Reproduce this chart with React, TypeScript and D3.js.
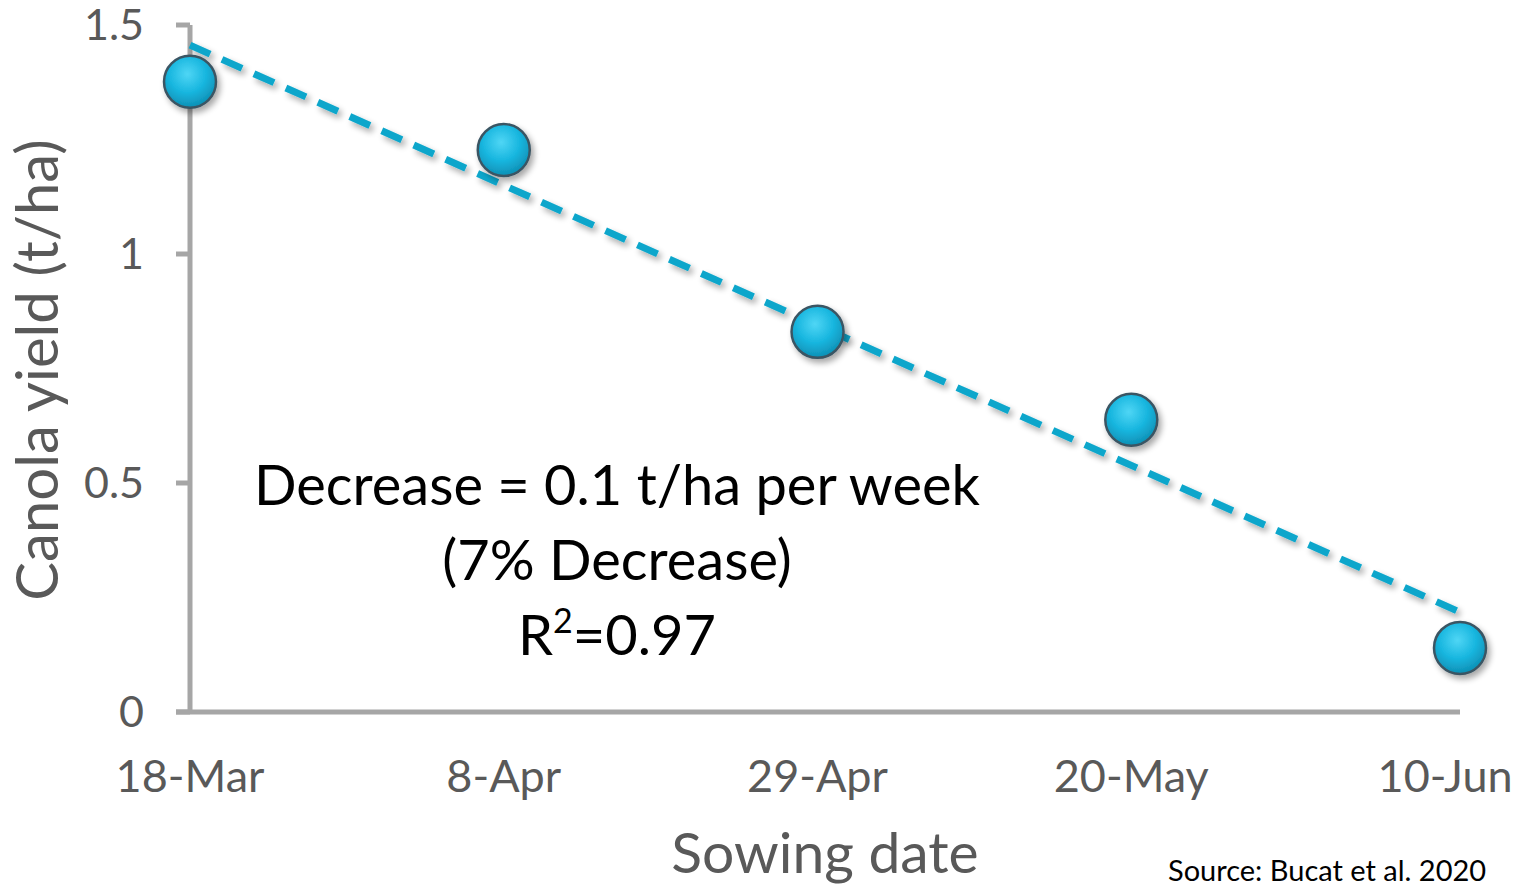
import React from "react";
import * as d3 from "d3";

const sowingDates = ["2019-03-18", "2019-04-08", "2019-04-29", "2019-05-20", "2019-06-11"];
const yields = [1.376, 1.227, 0.83, 0.638, 0.14];
const xTickDates = ["2019-03-18", "2019-04-08", "2019-04-29", "2019-05-20", "2019-06-10"];
const xTickLabels = ["18-Mar", "8-Apr", "29-Apr", "20-May", "10-Jun"];
const yTicks = [0, 0.5, 1, 1.5];
const yTickLabels = ["0", "0.5", "1", "1.5"];
const trendDates = ["2019-03-18", "2019-06-11"];
const trendValues = [1.456, 0.218];
const annotationLines = ["Decrease = 0.1 t/ha per week", "(7% Decrease)"];

const W = 1517;
const H = 886;
const FONT = "Lato, 'Open Sans', sans-serif";

export default function App() {
  const parse = d3.timeParse("%Y-%m-%d");
  const x = d3
    .scaleTime()
    .domain([parse("2019-03-18")!, parse("2019-06-11")!])
    .range([190, 1460]);
  const y = d3.scaleLinear().domain([0, 1.5]).range([712, 25]);

  const pts = sowingDates.map((d, i) => ({ x: x(parse(d)!), y: y(yields[i]) }));
  const trend = trendDates.map((d, i) => [x(parse(d)!), y(trendValues[i])] as [number, number]);
  const line = d3.line();

  return (
    <svg
      width={W}
      height={H}
      style={{ position: "absolute", left: 0, top: 0, background: "#fff" }}
      fontFamily={FONT}
    >
      <defs>
        <radialGradient id="ball" cx="45%" cy="35%" r="65%">
          <stop offset="0%" stopColor="#4fd6f5" />
          <stop offset="55%" stopColor="#18b6df" />
          <stop offset="100%" stopColor="#0e8fb4" />
        </radialGradient>
        <filter id="shadow" x="-50%" y="-50%" width="200%" height="200%">
          <feGaussianBlur in="SourceAlpha" stdDeviation="3" />
          <feOffset dx="3" dy="4" result="b" />
          <feComponentTransfer>
            <feFuncA type="linear" slope="0.35" />
          </feComponentTransfer>
          <feMerge>
            <feMergeNode />
            <feMergeNode in="SourceGraphic" />
          </feMerge>
        </filter>
      </defs>

      {/* axes */}
      <line x1={190} x2={190} y1={y(1.5)} y2={y(0)} stroke="#a6a6a6" strokeWidth={5} />
      <line x1={176} x2={x(parse("2019-06-11")!)} y1={y(0)} y2={y(0)} stroke="#a6a6a6" strokeWidth={5} />
      {yTicks.map((t, i) => (
        <g key={i}>
          <line x1={176} x2={190} y1={y(t)} y2={y(t)} stroke="#a6a6a6" strokeWidth={5} />
          <text x={144} y={y(t)} dy="0.35em" textAnchor="end" fontSize={43} fill="#595959">
            {yTickLabels[i]}
          </text>
        </g>
      ))}
      {xTickDates.map((d, i) => (
        <text
          key={i}
          x={x(parse(d)!)}
          y={792}
          textAnchor="middle"
          fontSize={45}
          fill="#595959"
        >
          {xTickLabels[i]}
        </text>
      ))}

      {/* trend line */}
      <path
        d={line(trend) || ""}
        stroke="#0aa6cb"
        strokeWidth={7}
        strokeDasharray="22 13"
        fill="none"
        filter="url(#shadow)"
      />

      {/* points */}
      {pts.map((p, i) => (
        <circle
          key={i}
          cx={p.x}
          cy={p.y}
          r={26}
          fill="url(#ball)"
          stroke="#3b5563"
          strokeWidth={2.5}
          filter="url(#shadow)"
        />
      ))}

      {/* annotation */}
      <text x={617} y={505} textAnchor="middle" fontSize={56} fill="#000">
        {annotationLines[0]}
      </text>
      <text x={617} y={580} textAnchor="middle" fontSize={56} fill="#000">
        {annotationLines[1]}
      </text>
      <text x={617} y={655} textAnchor="middle" fontSize={56} fill="#000">
        R<tspan dy={-22} fontSize={34}>2</tspan>
        <tspan dy={22}>=0.97</tspan>
      </text>

      {/* axis titles */}
      <text
        transform={`translate(58,370) rotate(-90)`}
        textAnchor="middle"
        fontSize={58}
        fill="#595959"
      >
        Canola yield (t/ha)
      </text>
      <text x={825} y={873} textAnchor="middle" fontSize={57} fill="#595959">
        Sowing date
      </text>
      <text x={1168} y={881} fontSize={29} fill="#000">
        Source: Bucat et al. 2020
      </text>
    </svg>
  );
}
